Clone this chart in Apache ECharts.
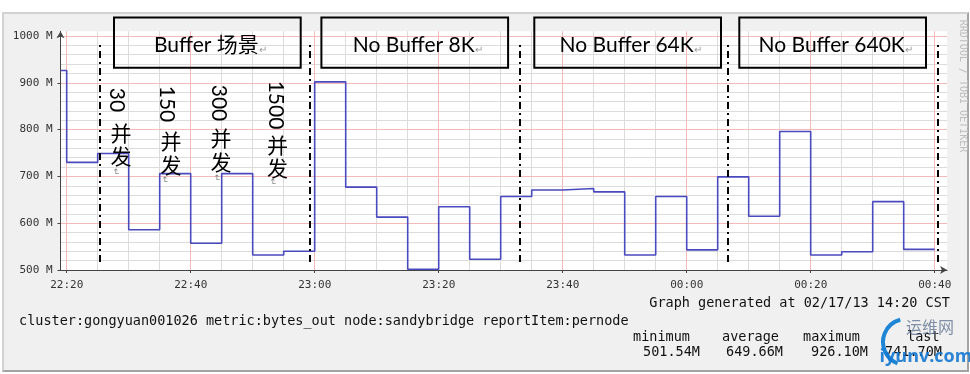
<!DOCTYPE html>
<html><head><meta charset="utf-8">
<script src="https://cdn.jsdelivr.net/npm/echarts@6/dist/echarts.min.js"></script>
<style>
html,body{margin:0;padding:0;background:#fff;}
#frame{position:absolute;left:2px;top:12px;width:967px;height:360px;background:#f0f0f0;box-sizing:border-box;border-top:2px solid #d2d2d2;border-left:2px solid #d2d2d2;border-right:2px solid #a3a3a3;border-bottom:2px solid #a3a3a3;}
#c{position:absolute;left:0;top:0;width:970px;height:374px;}
</style>
</head><body><div id="frame"></div><div id="c"></div>
<script>
// ---- data ----
const axisStart = '22:19';
const axisEnd = '00:42';
const stepStarts = ['22:19','22:20','22:25','22:30','22:35','22:40','22:45','22:50','22:55','23:00','23:05','23:10','23:15','23:20','23:25','23:30','23:35','23:40','23:45','23:50','23:55','00:00','00:05','00:10','00:15','00:20','00:25','00:30','00:35'];
const bytesOut = [926.1,730,749,586,706,557,706,532,540,902,677,613,501.54,635,523,657,671,674,667,532,657,543,699,615,796,532,539,646,544];
const stepEnd = '00:40';
const yMin = 500, yMax = 1010;
const separatorTimes = ['22:25.4','22:59.2','23:33.1','00:06.7','00:40.5'];
const separatorRange = [517, 987];
const boxTitles = ['Buffer 场景','No Buffer 8K','No Buffer 64K','No Buffer 640K'];
const concurrency = ['30','150','300','1500'];
const concurrencyUnit = '并\n发';
const statLabels = ['minimum','average','maximum','last'];
const statValues = ['501.54M','649.66M','926.10M','741.70M'];
const generatedText = 'Graph generated at 02/17/13 14:20 CST';
const footerText = 'cluster:gongyuan001026 metric:bytes_out node:sandybridge reportItem:pernode';
const sideText = 'RRDTOOL / TOBI OETIKER';

// ---- layout (annotation positions) ----
const boxRects = [[114,17.5,186.7,50.3],[321.4,17.5,186.7,50.3],[534.3,17.5,186.7,50.3],[739.3,17.5,186.7,50.3]];
const digitPos = [[116.5,100],[167,104],[219,103],[275.5,105]];
const cjkPos = [[121,144.5],[171,153],[221,150],[277.5,156.5]];
const markPos = [[116,172],[165,180],[217,178],[273,182]];
const statLabelX = [633,722,803,907];
const statValueX = [700,783,868,942];

const MONO = '"DejaVu Sans Mono", monospace';
const SANS = 'Lato, "Noto Sans CJK SC", sans-serif';

const toMin = t => { const p = t.split(':'); let h = parseInt(p[0],10); if (h < 12) h += 24; return h*60 + parseFloat(p[1]); };
const fmt = m => { const mm = Math.round(m) % 1440; return String(Math.floor(mm/60)).padStart(2,'0') + ':' + String(mm%60).padStart(2,'0'); };

const cats = [];
for (let m = toMin(axisStart); m <= toMin(axisEnd); m++) cats.push(fmt(m));

const seriesData = stepStarts.map((t,i) => [toMin(t), bytesOut[i]]);
seriesData.push([toMin(stepEnd), bytesOut[bytesOut.length-1]]);

const sepLines = separatorTimes.map(s => [{coord:[toMin(s), separatorRange[0]]},{coord:[toMin(s), separatorRange[1]]}]);

const graphics = [];
boxTitles.forEach((t,i) => {
  const r = boxRects[i];
  graphics.push({type:'rect', z:50, shape:{x:r[0],y:r[1],width:r[2],height:r[3]}, style:{fill:'rgba(255,255,255,0)', stroke:'#000', lineWidth:2}});
  graphics.push({type:'text', z:51, x:r[0]+r[2]/2+3, y:45.5, style:{text:'{t|'+t+'}{p|↵}', align:'center', verticalAlign:'middle', textAlign:'center', textVerticalAlign:'middle',
    rich:{t:{font:'21px '+SANS, fill:'#000'}, p:{font:'10px '+SANS, fill:'#999', padding:[8,0,0,0]}}}});
});
concurrency.forEach((d,i) => {
  graphics.push({type:'text', z:51, x:digitPos[i][0], y:digitPos[i][1], rotation:-Math.PI/2, style:{text:d, font:'21px '+SANS, fill:'#000', align:'center', verticalAlign:'middle', textAlign:'center', textVerticalAlign:'middle'}});
  graphics.push({type:'text', z:51, x:cjkPos[i][0], y:cjkPos[i][1], style:{text:concurrencyUnit, font:'21px "Noto Sans CJK SC", sans-serif', lineHeight:23.5, fill:'#000', align:'center', verticalAlign:'middle', textAlign:'center', textVerticalAlign:'middle'}});
  graphics.push({type:'text', z:51, x:markPos[i][0], y:markPos[i][1], rotation:-Math.PI/2, style:{text:'↵', font:'9px '+SANS, fill:'#888', align:'center', verticalAlign:'middle', textAlign:'center', textVerticalAlign:'middle'}});
});
graphics.push({type:'text', x:950, y:303, style:{text:generatedText, font:'13.5px '+MONO, fill:'#111', align:'right', verticalAlign:'middle', textAlign:'right', textVerticalAlign:'middle'}});
graphics.push({type:'text', x:19, y:321, style:{text:footerText, font:'13.5px '+MONO, fill:'#111', align:'left', verticalAlign:'middle', textAlign:'left', textVerticalAlign:'middle'}});
statLabels.forEach((s,i) => {
  graphics.push({type:'text', x:statLabelX[i], y:337, style:{text:s, font:'13.5px '+MONO, fill:'#111', align:'left', verticalAlign:'middle', textAlign:'left', textVerticalAlign:'middle'}});
  graphics.push({type:'text', x:statValueX[i], y:352, style:{text:statValues[i], font:'13.5px '+MONO, fill:'#111', align:'right', verticalAlign:'middle', textAlign:'right', textVerticalAlign:'middle'}});
});
graphics.push({type:'text', x:963, y:86, rotation:-Math.PI/2, style:{text:sideText, font:'10px '+MONO, fill:'#bdbdbd', align:'center', verticalAlign:'middle', textAlign:'center', textVerticalAlign:'middle'}});
// watermark
graphics.push({type:'arc', z:60, shape:{cx:906, cy:342, r:23, startAngle:Math.PI*0.62, endAngle:Math.PI*1.42, clockwise:true}, style:{stroke:'#1f86d6', lineWidth:4, fill:'none'}});
graphics.push({type:'text', z:60, x:930, y:327, style:{text:'运维网', font:'16px "Noto Sans CJK SC", sans-serif', fill:'rgba(90,110,140,0.75)', align:'center', verticalAlign:'middle', textAlign:'center', textVerticalAlign:'middle'}});
graphics.push({type:'text', z:60, x:926, y:357, style:{text:'iyunv.com', font:'bold 18px "Open Sans", sans-serif', fill:'rgba(20,120,210,0.9)', align:'center', verticalAlign:'middle', textAlign:'center', textVerticalAlign:'middle'}});

const chart = echarts.init(document.getElementById('c'), null, {renderer:'canvas', width:970, height:374});
chart.setOption({
  animation:false,
  backgroundColor:'transparent',
  grid:{left:60.5, top:31.3, width:886.6, height:238.7, show:true, backgroundColor:'#fff', borderWidth:0, containLabel:false, outerBoundsMode:'none'},
  xAxis:[
    {type:'category', data:cats, boundaryGap:false, position:'bottom', z:0,
     axisLine:{show:false}, axisTick:{show:false}, axisLabel:{show:false},
     splitLine:{show:true, interval:(i,v)=>{const m=toMin(v); return m%5===0 && m%20!==0;}, lineStyle:{color:'#dcdcdc', width:1}}},
    {type:'category', data:cats, boundaryGap:false, position:'bottom', z:1,
     axisLine:{show:true, onZero:false, symbol:['none','arrow'], symbolSize:[6,7], lineStyle:{color:'#444', width:1}},
     axisTick:{show:true, interval:(i,v)=>toMin(v)%20===0, length:3, lineStyle:{color:'#444'}},
     axisLabel:{show:true, interval:(i,v)=>toMin(v)%20===0, fontFamily:MONO, fontSize:11, color:'#333', margin:10},
     splitLine:{show:true, interval:(i,v)=>toMin(v)%20===0, lineStyle:{color:'#f4b9b9', width:1}}},
    {type:'value', min:toMin(axisStart), max:toMin(axisEnd), show:false}
  ],
  yAxis:[
    {type:'value', position:'left', offset:0, min:yMin, max:yMax, interval:20, z:0,
     axisLine:{show:false}, axisTick:{show:false}, axisLabel:{show:false},
     splitLine:{show:true, showMaxLine:false, lineStyle:{color:'#dcdcdc', width:1}}},
    {type:'value', position:'left', offset:0, min:yMin, max:yMax, interval:100, z:1,
     axisLine:{show:true, onZero:false, symbol:['none','arrow'], symbolSize:[6,7], lineStyle:{color:'#444', width:1}},
     axisTick:{show:true, length:3, lineStyle:{color:'#444'}},
     axisLabel:{show:true, showMaxLabel:false, formatter:v => (v%100===0 ? v+' M' : ''), fontFamily:MONO, fontSize:11, color:'#333', margin:8},
     splitLine:{show:true, showMaxLine:false, lineStyle:{color:'#f4b9b9', width:1}}}
  ],
  series:[{
    type:'line', xAxisIndex:2, yAxisIndex:1, data:seriesData, step:'end', symbol:'none', z:3,
    lineStyle:{color:'#4a4abf', width:1.6},
    markLine:{silent:true, symbol:['none','none'], label:{show:false}, data:sepLines,
      lineStyle:{color:'#000', width:2, type:[7,4,2,4]}, emphasis:{disabled:true}}
  }],
  graphic:{elements:graphics}
});
</script>
</body></html>
